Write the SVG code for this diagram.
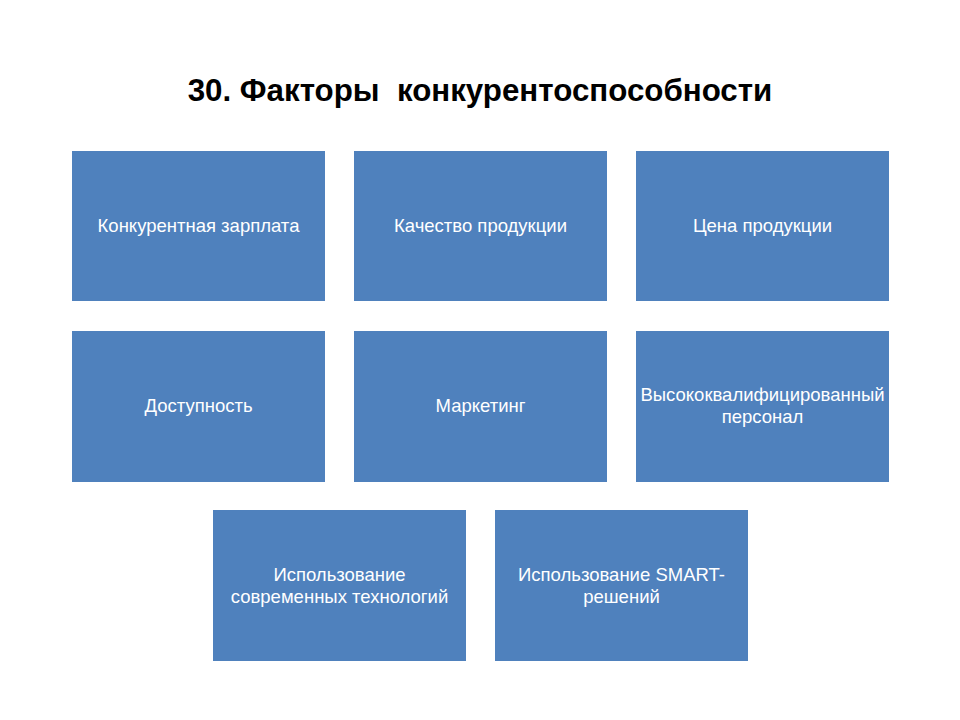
<svg xmlns="http://www.w3.org/2000/svg" width="960" height="720" viewBox="0 0 960 720">
<style>
.box{fill:#4F81BD;}
.t{font-family:"Liberation Sans",Arial,sans-serif;font-size:18.5px;fill:#fff;text-anchor:middle;}
.title{font-family:"Liberation Sans",Arial,sans-serif;font-size:31.3px;font-weight:bold;fill:#000;text-anchor:middle;}
</style>
<rect width="960" height="720" fill="#fff"/>
<text class="title" x="480" y="101" xml:space="preserve">30. Факторы  конкурентоспособности</text>
<g id="n1"><rect class="box" x="72" y="151" width="253" height="150"/><text class="t" x="198.5" y="232">Конкурентная зарплата</text></g>
<g id="n2"><rect class="box" x="354" y="151" width="253" height="150"/><text class="t" x="480.5" y="232">Качество продукции</text></g>
<g id="n3"><rect class="box" x="636" y="151" width="253" height="150"/><text class="t" x="762.5" y="232">Цена продукции</text></g>
<g id="n4"><rect class="box" x="72" y="331" width="253" height="151"/><text class="t" x="198.5" y="412">Доступность</text></g>
<g id="n5"><rect class="box" x="354" y="331" width="253" height="151"/><text class="t" x="480.5" y="412">Маркетинг</text></g>
<g id="n6"><rect class="box" x="636" y="331" width="253" height="151"/><text class="t" x="762.5" y="401">Высококвалифицированный</text><text class="t" x="762.5" y="423">персонал</text></g>
<g id="n7"><rect class="box" x="213" y="510" width="253" height="151"/><text class="t" x="339.5" y="581">Использование</text><text class="t" x="339.5" y="603">современных технологий</text></g>
<g id="n8"><rect class="box" x="495" y="510" width="253" height="151"/><text class="t" x="621.5" y="581">Использование SMART-</text><text class="t" x="621.5" y="603">решений</text></g>
<g id="connectors"></g>
</svg>
